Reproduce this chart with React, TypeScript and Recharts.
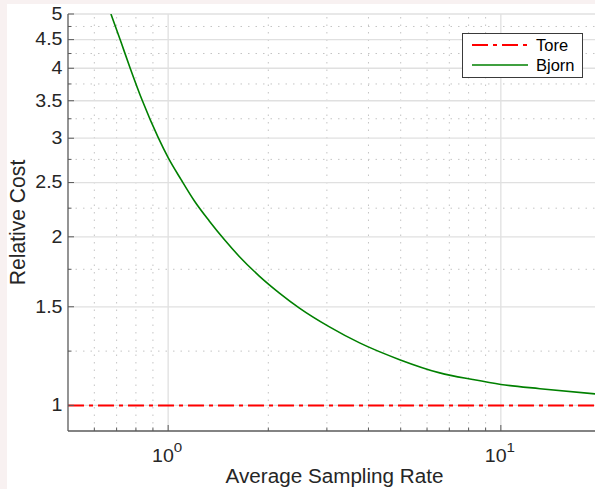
import React from 'react';
import { LineChart, Line, XAxis, YAxis, ReferenceLine, Legend } from 'recharts';

// ---- data ----
const xValues = [0.5, 0.673, 0.722, 0.768, 0.835, 0.933, 1.0, 1.094, 1.198, 1.329, 1.475, 1.636, 1.879, 2.16, 2.481, 3.054, 3.762, 4.964, 6.552, 8.236, 10, 13.11, 20];
const bjornValues: (number | null)[] = [null, 5.0, 4.45, 4.01, 3.51, 3.01, 2.77, 2.53, 2.32, 2.135, 1.978, 1.845, 1.702, 1.587, 1.492, 1.381, 1.293, 1.207, 1.143, 1.112, 1.09, 1.071, 1.046];
const toreValues = xValues.map(() => 1);

const xMajorTicks = [1, 10];
const xTickExponents = ['0', '1'];
const xMinorTicks = [0.6, 0.7, 0.8, 0.9, 2, 3, 4, 5, 6, 7, 8, 9];
const yMajorTicks = [1, 1.5, 2, 2.5, 3, 3.5, 4, 4.5, 5];
const yTickLabels = ['1', '1.5', '2', '2.5', '3', '3.5', '4', '4.5', '5'];
const yMinorTicks = [1.25, 1.75, 2.25, 2.75, 3.25, 3.75, 4.25, 4.75];

const xDomain = [0.5, 20];
const yDomain = [0.9, 5];

const series = [
  { key: 'tore', name: 'Tore', color: '#ff0000', dash: '16 5 4 5', width: 2 },
  { key: 'bjorn', name: 'Bjorn', color: '#008000', dash: undefined as string | undefined, width: 1.6 },
];

const data = xValues.map((x, i) => ({ x, tore: toreValues[i], bjorn: bjornValues[i] }));

// ---- styles ----
const FONT = '"Liberation Sans", Arial, Helvetica, sans-serif';
const TEXT = '#262626';
const AXIS = '#5a5a5a';
const MAJOR_GRID = '#e0e0e0';
const MINOR_GRID = '#c4c4c4';

const allXTicks = [...xMinorTicks, ...xMajorTicks].sort((a, b) => a - b);
const allYTicks = [...yMinorTicks, ...yMajorTicks].sort((a, b) => a - b);

const XBottomTick = (props: any) => {
  const { x, y, payload } = props;
  const v = payload.value;
  const idx = xMajorTicks.indexOf(v);
  const major = idx >= 0;
  return (
    <g>
      <line x1={x} x2={x} y1={y} y2={y - (major ? 6 : 3.5)} stroke={AXIS} strokeWidth={1} />
      {major && (
        <text
          transform={`translate(${x - 1},${462}) scale(1.12,1)`}
          textAnchor="middle"
          fontFamily={FONT}
          fontSize={17.5}
          fill={TEXT}
        >
          10
          <tspan dy={-10} fontSize={13.5}>{xTickExponents[idx]}</tspan>
        </text>
      )}
    </g>
  );
};

const XTopTick = (props: any) => {
  const { x, y, payload } = props;
  const major = xMajorTicks.indexOf(payload.value) >= 0;
  return <line x1={x} x2={x} y1={y} y2={y + (major ? 6 : 3.5)} stroke={AXIS} strokeWidth={1} />;
};

const YLeftTick = (props: any) => {
  const { x, y, payload } = props;
  const idx = yMajorTicks.indexOf(payload.value);
  const major = idx >= 0;
  return (
    <g>
      <line x1={x} x2={x + (major ? 6 : 3.5)} y1={y} y2={y} stroke={AXIS} strokeWidth={1} />
      {major && (
        <text
          transform={`translate(${x - 5.5},${y}) scale(1.12,1)`}
          dy="0.33em"
          textAnchor="end"
          fontFamily={FONT}
          fontSize={17.5}
          fill={TEXT}
        >
          {yTickLabels[idx]}
        </text>
      )}
    </g>
  );
};

const XLabel = (props: any) => {
  const vb = props.viewBox;
  const cx = vb.x + vb.width / 2;
  return (
    <text transform={`translate(${cx},${483}) scale(1.06,1)`} textAnchor="middle" fontFamily={FONT} fontSize={19.5} fill={TEXT}>
      Average Sampling Rate
    </text>
  );
};

const YLabel = (props: any) => {
  const vb = props.viewBox;
  const cy = vb.y + vb.height / 2;
  return (
    <text transform={`translate(${25},${cy}) rotate(-90) scale(1.03,1.08)`} textAnchor="middle" fontFamily={FONT} fontSize={20.5} fill={TEXT}>
      Relative Cost
    </text>
  );
};

const LegendBox = () => (
  <svg width={121} height={45} style={{ display: 'block' }}>
    <rect x={0.5} y={0.5} width={120} height={44} fill="#ffffff" stroke="#3a3a3a" strokeWidth={1} />
    {series.map((s, i) => (
      <g key={s.key}>
        <line x1={10} x2={66} y1={12 + i * 20} y2={12 + i * 20} stroke={s.color} strokeWidth={s.width} strokeDasharray={s.dash} />
        <text x={74} y={17.5 + i * 20} fontFamily={FONT} fontSize={16.5} fill="#000">
          {s.name}
        </text>
      </g>
    ))}
  </svg>
);

export default function App() {
  return (
    <div style={{ position: 'fixed', left: 0, top: 0, width: 595, height: 489, overflow: 'hidden', background: '#f8f1f1' }}>
      <div style={{ position: 'absolute', left: 7, top: 4, right: 0, bottom: 0, background: '#ffffff' }} />
      <div style={{ position: 'absolute', left: 0, top: 0 }}>
        <LineChart width={612} height={489} data={data} margin={{ top: 14, right: 11, bottom: 0, left: 0 }}>
          <XAxis
            dataKey="x"
            type="number"
            scale="log"
            domain={xDomain}
            allowDataOverflow
            ticks={allXTicks}
            interval={0}
            tick={<XBottomTick />}
            tickLine={false}
            tickSize={0}
            tickMargin={0}
            height={58}
            axisLine={{ stroke: AXIS, strokeWidth: 1.3 }}
            label={<XLabel />}
          />
          <XAxis
            xAxisId="top"
            orientation="top"
            dataKey="x"
            type="number"
            scale="log"
            domain={xDomain}
            allowDataOverflow
            ticks={allXTicks}
            interval={0}
            tick={<XTopTick />}
            tickLine={false}
            tickSize={0}
            tickMargin={0}
            height={0}
            axisLine={{ stroke: AXIS, strokeWidth: 1.3 }}
          />
          <YAxis
            type="number"
            scale="log"
            domain={yDomain}
            allowDataOverflow
            ticks={allYTicks}
            interval={0}
            tick={<YLeftTick />}
            tickLine={false}
            tickSize={0}
            tickMargin={0}
            width={68}
            axisLine={{ stroke: AXIS, strokeWidth: 1.3 }}
            label={<YLabel />}
          />
          {xMinorTicks.map((v) => (
            <ReferenceLine key={'xm' + v} x={v} stroke={MINOR_GRID} strokeDasharray="1.5 6" strokeWidth={1} />
          ))}
          {yMinorTicks.map((v) => (
            <ReferenceLine key={'ym' + v} y={v} stroke={MINOR_GRID} strokeDasharray="1.5 6" strokeWidth={1} />
          ))}
          {xMajorTicks.map((v) => (
            <ReferenceLine key={'xM' + v} x={v} stroke={MAJOR_GRID} strokeWidth={1.3} />
          ))}
          {yMajorTicks.map((v) => (
            <ReferenceLine key={'yM' + v} y={v} stroke={MAJOR_GRID} strokeWidth={1.3} />
          ))}
          <Line
            dataKey="tore"
            name="Tore"
            type="linear"
            stroke={series[0].color}
            strokeWidth={series[0].width}
            strokeDasharray={series[0].dash}
            dot={false}
            isAnimationActive={false}
          />
          <Line
            dataKey="bjorn"
            name="Bjorn"
            type="monotone"
            stroke={series[1].color}
            strokeWidth={series[1].width}
            dot={false}
            isAnimationActive={false}
          />
          <Legend
            layout="horizontal"
            verticalAlign="middle"
            align="center"
            content={() => <LegendBox />}
            wrapperStyle={{ position: 'absolute', left: 462, top: 33, width: 121, height: 45, margin: 0, padding: 0 }}
          />
        </LineChart>
      </div>
    </div>
  );
}
